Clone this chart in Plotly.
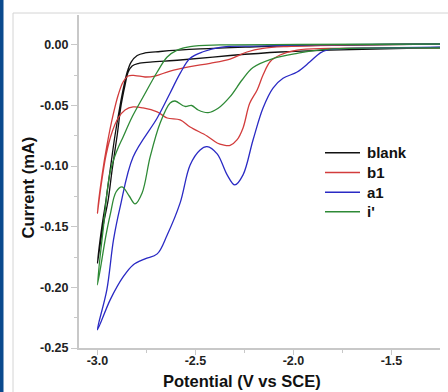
import plotly.graph_objects as go

# ---- data (potential in V vs SCE, current in mA) ----
blank_x = [-1.252, -1.817, -2.068, -2.323, -2.578, -2.731, -2.792, -2.823, -2.843, -2.859, -2.879, -2.899, -2.925, -2.945, -2.971, -3.000,
           -2.976, -2.956, -2.935, -2.910, -2.884, -2.864, -2.848, -2.828, -2.797, -2.757, -2.680, -2.476, -2.223, -1.967, -1.252]
blank_y = [-0.0023, -0.0044, -0.0060, -0.0089, -0.0126, -0.0143, -0.0155, -0.0175, -0.0225, -0.0332, -0.0497, -0.0744, -0.1032, -0.1279, -0.1493, -0.1800,
           -0.1485, -0.1279, -0.1032, -0.0744, -0.0497, -0.0332, -0.0225, -0.0143, -0.0089, -0.0068, -0.0056, -0.0035, -0.0019, -0.0007, 0.0006]

b1_x = [-1.252, -1.817, -1.981, -2.068, -2.119, -2.155, -2.185, -2.223, -2.257, -2.288, -2.323, -2.359, -2.389, -2.441, -2.527, -2.578, -2.644, -2.695, -2.767, -2.818, -2.859, -2.894, -2.925, -2.956, -2.981, -3.000,
        -2.976, -2.951, -2.920, -2.894, -2.869, -2.843, -2.808, -2.757, -2.706, -2.629, -2.527, -2.425, -2.323, -2.237, -2.155, -2.032, -1.715, -1.252]
b1_y = [-0.0027, -0.0031, -0.0044, -0.0085, -0.0140, -0.0250, -0.0373, -0.0483, -0.0686, -0.0785, -0.0830, -0.0826, -0.0810, -0.0752, -0.0678, -0.0620, -0.0604, -0.0554, -0.0521, -0.0513, -0.0538, -0.0604, -0.0719, -0.0909, -0.1156, -0.1389,
        -0.1073, -0.0826, -0.0579, -0.0414, -0.0307, -0.0258, -0.0254, -0.0266, -0.0258, -0.0217, -0.0181, -0.0153, -0.0118, -0.0060, -0.0030, -0.0015, -0.0002, 0.0006]

a1_x = [-1.252, -1.558, -1.830, -1.866, -1.917, -1.981, -2.053, -2.104, -2.155, -2.206, -2.257, -2.299, -2.338, -2.389, -2.441, -2.476, -2.527, -2.578, -2.644, -2.695, -2.757, -2.818, -2.869, -2.935, -3.000,
        -2.952, -2.918, -2.884, -2.818, -2.695, -2.629, -2.578, -2.527, -2.461, -2.374, -2.206, -1.917, -1.252]
a1_y = [-0.0021, -0.0027, -0.0044, -0.0071, -0.0143, -0.0225, -0.0277, -0.0357, -0.0521, -0.0785, -0.1073, -0.1156, -0.1073, -0.0900, -0.0840, -0.0867, -0.0991, -0.1304, -0.1568, -0.1724, -0.1765, -0.1815, -0.1914, -0.2103, -0.2350,
        -0.2021, -0.1609, -0.1337, -0.0925, -0.0604, -0.0398, -0.0236, -0.0112, -0.0058, -0.0021, -0.0011, -0.0002, 0.0006]

i_x = [-1.252, -1.830, -1.981, -2.104, -2.206, -2.262, -2.323, -2.384, -2.435, -2.486, -2.519, -2.553, -2.604, -2.629, -2.680, -2.731, -2.772, -2.808, -2.838, -2.874, -2.905, -2.935, -2.956, -3.000,
       -2.971, -2.935, -2.899, -2.869, -2.823, -2.767, -2.695, -2.644, -2.593, -2.527, -2.374, -1.967, -1.252]
i_y = [-0.0027, -0.0038, -0.0071, -0.0114, -0.0188, -0.0291, -0.0428, -0.0524, -0.0560, -0.0538, -0.0501, -0.0509, -0.0464, -0.0480, -0.0645, -0.0925, -0.1222, -0.1312, -0.1247, -0.1172, -0.1214, -0.1403, -0.1568, -0.1979,
       -0.1526, -0.1049, -0.0867, -0.0760, -0.0596, -0.0431, -0.0225, -0.0101, -0.0044, -0.0015, -0.0002, 0.0002, 0.0006]

series_names = ["blank", "b1", "a1", "i'"]
series_colors = ["#111111", "#d23c3c", "#2a2ac4", "#2e8a36"]

x_tickvals = [-3.0, -2.5, -2.0, -1.5]
x_ticktext = ["-3.0", "-2.5", "-2.0", "-1.5"]
y_tickvals = [0.0, -0.05, -0.10, -0.15, -0.20, -0.25]
y_ticktext = ["0.00", "-0.05", "-0.10", "-0.15", "-0.20", "-0.25"]

FONT = "Arial, Liberation Sans, sans-serif"
AX = "#c8c8c8"

fig = go.Figure()
for name, xs, ys, col in zip(series_names, [blank_x, b1_x, a1_x, i_x], [blank_y, b1_y, a1_y, i_y], series_colors):
    fig.add_trace(go.Scatter(x=xs, y=ys, mode="lines", name=name, showlegend=False,
                             line=dict(color=col, width=1.3, shape="spline", smoothing=1.0)))

L, R, T, B = 79, 8, 15, 44
W, H = 448, 392
pw, ph = W - L - R, H - T - B

def px(x):
    return (x - L) / pw

def py(y):
    return (H - B - y) / ph

shapes = [
    dict(type="rect", xref="paper", yref="paper", x0=px(0), x1=px(3.5), y0=py(400), y1=py(-5),
         fillcolor="#0b4a8e", line=dict(width=0), layer="below"),
    dict(type="rect", xref="paper", yref="paper", x0=px(13), x1=px(460), y0=py(400), y1=py(13),
         fillcolor="rgba(0,0,0,0)", line=dict(color="#d4d4d4", width=1), layer="below"),
]
annotations = [
    dict(text="Potential (V vs SCE)", xref="paper", yref="paper", x=px(241.7), y=py(381),
         xanchor="center", yanchor="middle", showarrow=False,
         font=dict(size=16.5, family=FONT, color="#111111", weight="bold")),
    dict(text="Current (mA)", xref="paper", yref="paper", x=px(27), y=py(187.5), textangle=-90,
         xanchor="center", yanchor="middle", showarrow=False,
         font=dict(size=16.5, family=FONT, color="#111111", weight="bold")),
]

# legend drawn as key lines + labels
legend_rows = [152.7, 172.5, 192.2, 211.8]
for name, col, yy in zip(series_names, series_colors, legend_rows):
    shapes.append(dict(type="line", xref="paper", yref="paper", x0=px(325), x1=px(360), y0=py(yy), y1=py(yy),
                       line=dict(color=col, width=1.6)))
    annotations.append(dict(text=name, xref="paper", yref="paper", x=px(365), y=py(yy), xanchor="left",
                            yanchor="middle", showarrow=False,
                            font=dict(size=15, family=FONT, color="#111111", weight="bold")))

fig.update_layout(
    width=W, height=H,
    margin=dict(l=L, r=R, t=T, b=B, pad=0),
    paper_bgcolor="white", plot_bgcolor="white",
    font=dict(family=FONT, color="#222222"),
    showlegend=False,
    xaxis=dict(range=[-3.094, -1.252], showline=True, linecolor=AX, linewidth=2,
               showgrid=False, zeroline=False, ticks="outside", ticklen=5, tickcolor=AX, tickwidth=1,
               tickmode="array", tickvals=x_tickvals, ticktext=x_ticktext, ticklabelstandoff=-5,
               tickfont=dict(size=12.5, family=FONT, color="#222222", weight="bold"),
               minor=dict(ticks="outside", ticklen=3, tickcolor=AX, dtick=0.25, tick0=-3.0, showgrid=False)),
    yaxis=dict(range=[-0.25, 0.0245], showline=True, linecolor=AX, linewidth=2,
               showgrid=False, zeroline=False, ticks="outside", ticklen=6, tickcolor=AX, tickwidth=1,
               tickmode="array", tickvals=y_tickvals, ticktext=y_ticktext,
               tickfont=dict(size=12.5, family=FONT, color="#222222", weight="bold"),
               minor=dict(ticks="outside", ticklen=3, tickcolor=AX, dtick=0.025, tick0=0, showgrid=False)),
    shapes=shapes,
    annotations=annotations,
)

fig.write_html("out.html", config={"displayModeBar": False},
               post_script="document.body.style.margin='0px';document.body.style.overflow='hidden';")
